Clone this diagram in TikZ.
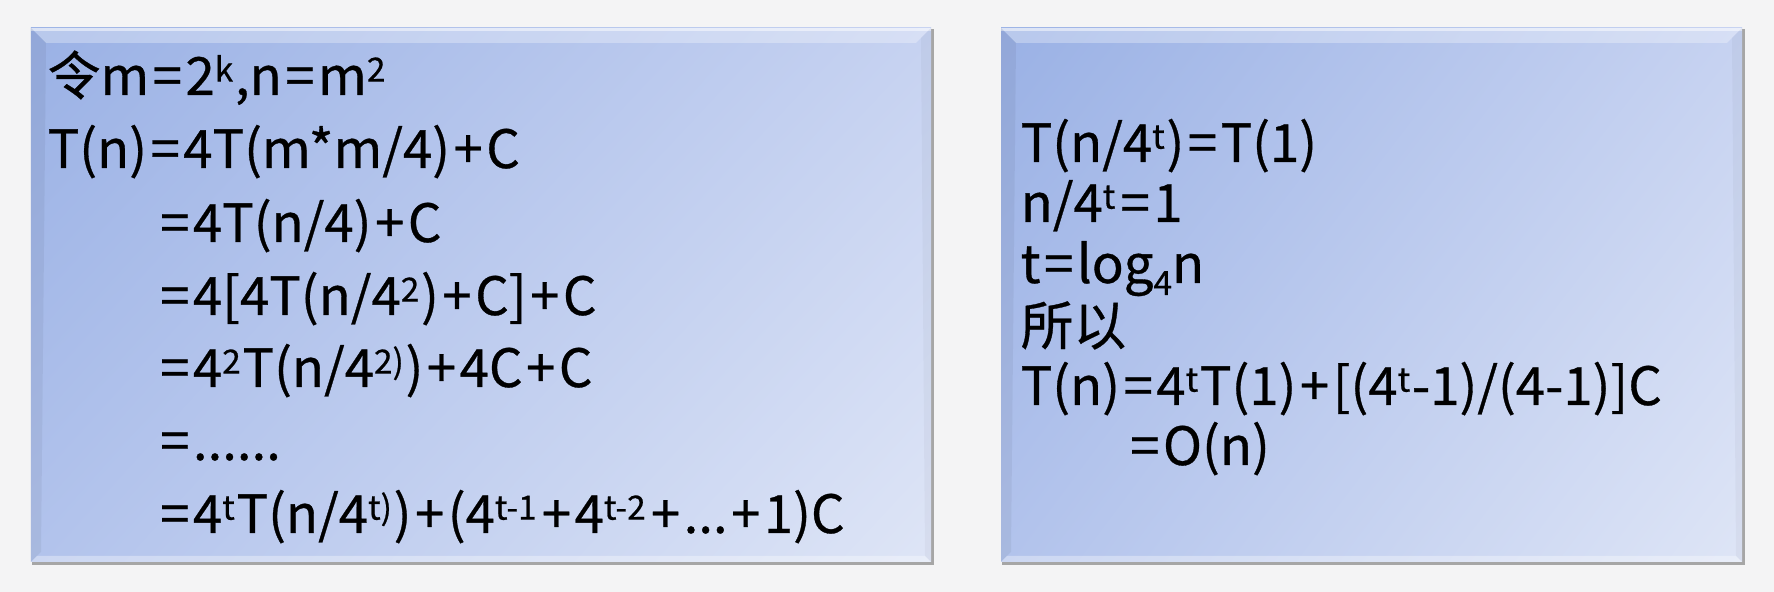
\documentclass[tikz,border=0pt]{standalone}
\usepackage{fontspec}
\setmainfont{Noto Sans CJK SC}[FakeBold=0.6]
\usetikzlibrary{positioning,shadings}

\definecolor{pagebg}{RGB}{244,244,245}
\definecolor{tlblue}{RGB}{154,177,229}
\definecolor{trblue}{RGB}{198,210,241}
\definecolor{blblue}{RGB}{178,195,236}
\definecolor{brblue}{RGB}{222,229,246}

% small raised and lowered text, spaced operators
\newcommand\supr[1]{\raisebox{3.8pt}{\fontsize{9.5}{9.5}\selectfont #1}\kern0.5pt}
\newcommand\subr[1]{\raisebox{-3.4pt}{\fontsize{9.5}{9.5}\selectfont #1}}
\newcommand\op[1]{\kern1pt#1\kern1pt}

\begin{document}
\begin{tikzpicture}[
    eqline/.style={anchor=base west, inner sep=0pt, font=\fontsize{15}{18}\selectfont},
    panel/.style={upper left=tlblue, upper right=trblue, lower left=blblue, lower right=brblue},
    lit/.style={fill=white, fill opacity=.3},
    dim/.style={fill=black, fill opacity=.05},
    rim/.style={draw=gray!70, line width=0.8pt}]

  \fill[pagebg] (0,0) rectangle (17.74,5.92);

  % left panel
  \draw[rim] (0.32,0.285) -- (9.325,0.285) -- (9.325,5.63);
  \shade[panel] (0.31,0.30) rectangle (9.31,5.64);
  \fill[lit] (0.31,5.64) -- (9.31,5.64) -- (9.16,5.49) -- (0.46,5.49) -- cycle;
  \fill[lit, fill opacity=.5] (0.31,5.64) rectangle (9.31,5.61);
  \fill[lit, fill opacity=.35] (0.31,0.30) -- (9.31,0.30) -- (9.25,0.36) -- (0.37,0.36) -- cycle;
  \fill[dim] (0.31,0.30) -- (0.31,5.64) -- (0.46,5.49) -- (0.41,0.40) -- cycle;
  \fill[dim, fill opacity=.03] (9.31,0.30) -- (9.31,5.64) -- (9.21,5.54) -- (9.25,0.36) -- cycle;

  % right panel
  \draw[rim] (10.02,0.285) -- (17.435,0.285) -- (17.435,5.63);
  \shade[panel] (10.01,0.30) rectangle (17.42,5.64);
  \fill[lit] (10.01,5.64) -- (17.42,5.64) -- (17.27,5.49) -- (10.16,5.49) -- cycle;
  \fill[lit, fill opacity=.5] (10.01,5.64) rectangle (17.42,5.61);
  \fill[lit, fill opacity=.35] (10.01,0.30) -- (17.42,0.30) -- (17.36,0.36) -- (10.07,0.36) -- cycle;
  \fill[dim] (10.01,0.30) -- (10.01,5.64) -- (10.16,5.49) -- (10.11,0.40) -- cycle;
  \fill[dim, fill opacity=.03] (17.42,0.30) -- (17.42,5.64) -- (17.32,5.54) -- (17.36,0.36) -- cycle;

  \node[eqline] (l1) at (0.47, 4.97) {令m\op{=}2\supr{k},n\op{=}m\supr{2}};
  \node[eqline] (l2) at (0.47, 4.24) {T(n)\op{=}4T(m*m/4)\op{+}C};
  \node[eqline] (l3) at (1.56, 3.50) {\op{=}4T(n/4)\op{+}C};
  \node[eqline] (l4) at (1.56, 2.77) {\op{=}4[4T(n/4\supr{2})\op{+}C]\op{+}C};
  \node[eqline] (l5) at (1.56, 2.05) {\op{=}4\supr{2}T(n/4\supr{2)})\op{+}4C\op{+}C};
  \node[eqline] (l6) at (1.56, 1.32) {\op{=}......};
  \node[eqline] (l7) at (1.56, 0.59) {\op{=}4\supr{t}T(n/4\supr{t)})\op{+}(4\supr{t-1}\op{+}4\supr{t-2}\op{+}...\op{+}1)C};

  \node[eqline] (r1) at (10.20, 4.30) {T(n/4\supr{t})\op{=}T(1)};
  \node[eqline] (r2) at (10.20, 3.70) {n/4\supr{t}\op{=}1};
  \node[eqline] (r3) at (10.20, 3.09) {t\op{=}log\subr{4}n};
  \node[eqline] (r4) at (10.20, 2.47) {所以};
  \node[eqline] (r5) at (10.20, 1.87) {T(n)\op{=}4\supr{t}T(1)\op{+}[(4\supr{t}-1)/(4-1)]C};
  \node[eqline] (r6) at (11.26, 1.27) {\op{=}O(n)};

\end{tikzpicture}
\end{document}
